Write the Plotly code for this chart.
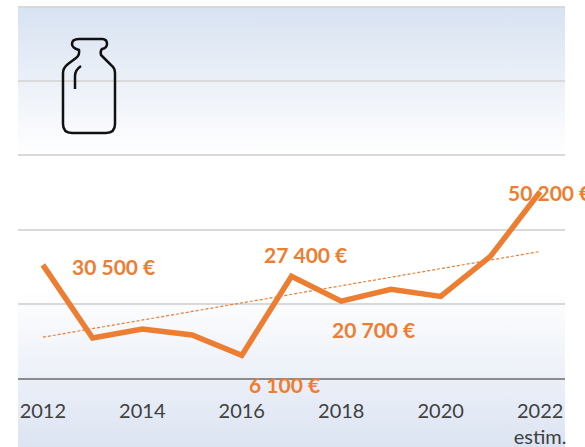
import plotly.graph_objects as go

years = [2012, 2013, 2014, 2015, 2016, 2017, 2018, 2019, 2020, 2021, 2022]
prices = [30500, 10800, 13200, 11600, 6100, 27400, 20700, 23900, 22000, 32800, 50200]
trend_years = [2012, 2022]
trend_values = [11000, 34100]
tick_years = [2012, 2014, 2016, 2018, 2020, 2022]
tick_labels = ["2012", "2014", "2016", "2018", "2020", "2022<br>estim."]
label_texts = ["30 500 €", "27 400 €", "20 700 €", "6 100 €", "50 200 €"]
label_px = [(113, 266), (305, 254), (374, 329), (284, 384), (549, 192)]

W, H = 585, 447
ORANGE = "#ED7D31"
FONT = "Lato"


def px(x):
    return x / W


def py(y):
    return 1 - y / H


def pathify(cmds):
    out = []
    for c in cmds:
        out.append(c[0])
        nums = c[1:]
        for i in range(0, len(nums), 2):
            out.append(f"{px(nums[i]):.5f},{py(nums[i + 1]):.5f}")
    return " ".join(out)


bottle = pathify([
    ("M", 79, 39), ("L", 102, 39), ("Q", 107, 39, 107, 44), ("Q", 107, 48, 102, 49),
    ("Q", 100, 51, 101, 55), ("L", 111, 65), ("Q", 115, 68, 115, 73), ("L", 115, 124),
    ("Q", 115, 133, 106, 133), ("L", 72, 133), ("Q", 63, 133, 63, 124), ("L", 63, 73),
    ("Q", 63, 68, 68, 64), ("L", 76, 58), ("Q", 80, 55, 79, 50), ("Q", 72, 48, 72, 44),
    ("Q", 72, 39, 79, 39), ("Z",),
])
shine = pathify([("M", 75, 89), ("L", 75, 76), ("Q", 75, 70, 81, 66)])

fig = go.Figure()
# Gradient panel on its own axes, under the chart
fig.add_trace(go.Scatter(
    x=[0, 1, 1, 0, 0], y=[0, 0, 1, 1, 0], mode="none", fill="toself",
    hoverinfo="skip", showlegend=False, xaxis="x", yaxis="y",
    fillgradient=dict(type="vertical", colorscale=[
        [0, "#dce4f2"], [0.36, "#ffffff"], [0.66, "#ffffff"], [1, "#d8e2f1"]]),
))
fig.add_trace(go.Scatter(
    x=trend_years, y=trend_values, mode="lines", showlegend=False, xaxis="x2", yaxis="y2",
    line=dict(color=ORANGE, width=1.2, dash="3px,2px"),
))
fig.add_trace(go.Scatter(
    x=years, y=prices, mode="lines", showlegend=False, xaxis="x2", yaxis="y2",
    line=dict(color=ORANGE, width=5.5, shape="linear"),
))

for text, (lx, ly) in zip(label_texts, label_px):
    fig.add_annotation(
        x=px(lx), y=py(ly), xref="paper", yref="paper", text=f"<b>{text}</b>",
        showarrow=False, font=dict(family=FONT, size=21, color=ORANGE, weight=900),
        xanchor="center", yanchor="middle",
    )

fig.add_shape(type="path", path=bottle, xref="paper", yref="paper",
              line=dict(color="#111111", width=2.5))
fig.add_shape(type="path", path=shine, xref="paper", yref="paper",
              line=dict(color="#111111", width=2.5))
# Top border of the panel, matching the gridlines
fig.add_shape(type="line", xref="paper", yref="paper",
              x0=px(18), x1=px(565), y0=py(7), y1=py(7),
              line=dict(color="#d9d9d9", width=2))

fig.update_layout(
    width=W, height=H, autosize=False,
    margin=dict(l=0, r=0, t=0, b=0),
    paper_bgcolor="white", plot_bgcolor="rgba(0,0,0,0)", showlegend=False,
    xaxis=dict(domain=[px(18), px(565)], range=[0, 1], visible=False, fixedrange=True),
    yaxis=dict(domain=[0, py(7)], range=[0, 1], visible=False, fixedrange=True),
    xaxis2=dict(
        domain=[px(18), px(565)], range=[2011.5, 2022.5], anchor="y2",
        tickmode="array", tickvals=tick_years, ticktext=tick_labels,
        showgrid=False, zeroline=False, showline=True, linecolor="#8c8c8c", linewidth=2,
        ticks="outside", ticklen=14, tickcolor="rgba(0,0,0,0)",
        tickfont=dict(family=FONT, size=20, color="#404040"), tickangle=0,
    ),
    yaxis2=dict(
        domain=[py(378), py(7)], range=[0, 100000], anchor="x2",
        tickmode="linear", tick0=0, dtick=20000, showticklabels=False,
        showgrid=True, gridcolor="#d9d9d9", gridwidth=2, zeroline=False, showline=False,
    ),
)

fig.write_html(
    "out.html",
    config={"displayModeBar": False},
    post_script="document.body.style.margin='0';document.body.style.overflow='hidden';"
                "document.documentElement.style.overflow='hidden';",
)
